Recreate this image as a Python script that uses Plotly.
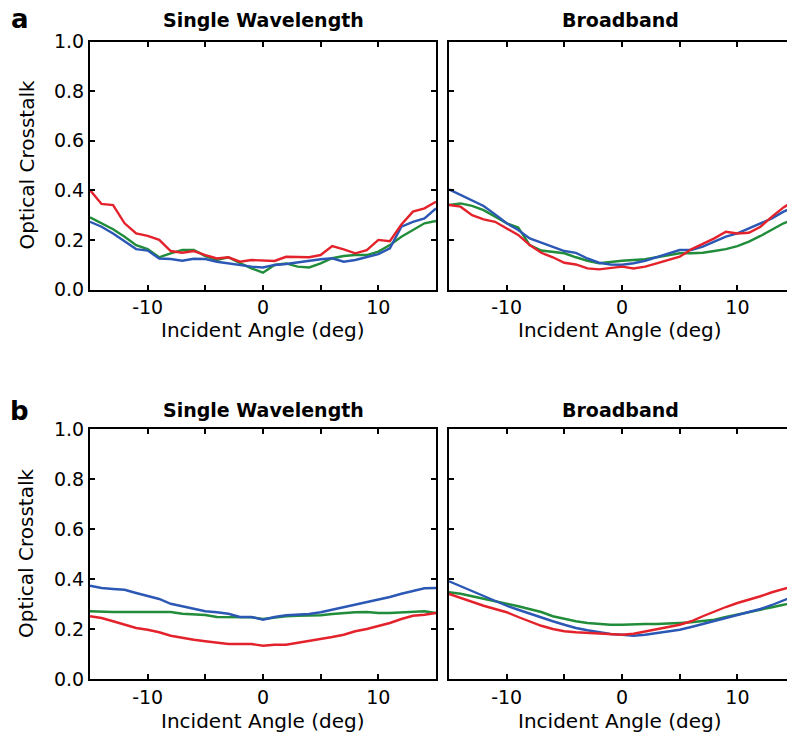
import plotly.graph_objects as go

angles = list(range(-15, 16))

# Panel a, Single Wavelength
a_sw_red = [0.401, 0.345, 0.340, 0.267, 0.226, 0.216, 0.200, 0.155, 0.148, 0.155, 0.139, 0.125, 0.130, 0.112, 0.119, 0.117,
            0.115, 0.132, 0.132, 0.130, 0.139, 0.175, 0.162, 0.146, 0.159, 0.200, 0.195, 0.262, 0.314, 0.327, 0.354]
a_sw_green = [0.291, 0.267, 0.243, 0.213, 0.179, 0.163, 0.130, 0.146, 0.159, 0.159, 0.135, 0.119, 0.130, 0.106, 0.085, 0.068,
              0.099, 0.105, 0.092, 0.089, 0.105, 0.126, 0.135, 0.139, 0.139, 0.153, 0.179, 0.213, 0.240, 0.267, 0.276]
a_sw_blue = [0.273, 0.253, 0.226, 0.193, 0.163, 0.157, 0.125, 0.123, 0.116, 0.124, 0.123, 0.112, 0.105, 0.099, 0.092, 0.089,
             0.099, 0.103, 0.110, 0.116, 0.122, 0.126, 0.112, 0.119, 0.130, 0.143, 0.166, 0.253, 0.273, 0.287, 0.327]

# Panel a, Broadband
a_bb_red = [0.341, 0.334, 0.300, 0.283, 0.273, 0.247, 0.220, 0.179, 0.148, 0.130, 0.108, 0.101, 0.085, 0.081, 0.085, 0.092,
            0.085, 0.092, 0.105, 0.119, 0.132, 0.162, 0.183, 0.206, 0.233, 0.226, 0.229, 0.253, 0.294, 0.331, 0.360]
a_bb_green = [0.341, 0.347, 0.337, 0.320, 0.294, 0.267, 0.250, 0.179, 0.157, 0.152, 0.146, 0.130, 0.116, 0.106, 0.112, 0.116,
              0.119, 0.122, 0.130, 0.139, 0.146, 0.146, 0.148, 0.155, 0.163, 0.175, 0.193, 0.216, 0.240, 0.267, 0.285]
a_bb_blue = [0.404, 0.381, 0.361, 0.337, 0.303, 0.267, 0.240, 0.206, 0.189, 0.173, 0.155, 0.148, 0.125, 0.108, 0.101, 0.100,
             0.106, 0.116, 0.130, 0.143, 0.159, 0.159, 0.173, 0.193, 0.213, 0.226, 0.247, 0.267, 0.287, 0.314, 0.335]

# Panel b, Single Wavelength
b_sw_red = [0.251, 0.244, 0.231, 0.217, 0.204, 0.197, 0.187, 0.173, 0.164, 0.157, 0.151, 0.144, 0.140, 0.140, 0.140, 0.133,
            0.137, 0.137, 0.144, 0.153, 0.161, 0.168, 0.177, 0.191, 0.200, 0.211, 0.224, 0.240, 0.253, 0.257, 0.264]
b_sw_green = [0.271, 0.268, 0.268, 0.268, 0.268, 0.267, 0.267, 0.268, 0.261, 0.260, 0.256, 0.248, 0.248, 0.248, 0.247, 0.240,
              0.247, 0.251, 0.253, 0.253, 0.255, 0.260, 0.264, 0.267, 0.268, 0.264, 0.264, 0.267, 0.267, 0.271, 0.264]
b_sw_blue = [0.373, 0.364, 0.360, 0.357, 0.344, 0.331, 0.320, 0.301, 0.291, 0.280, 0.271, 0.267, 0.261, 0.248, 0.248, 0.237,
             0.248, 0.255, 0.257, 0.260, 0.267, 0.277, 0.288, 0.297, 0.307, 0.315, 0.328, 0.341, 0.351, 0.363, 0.364]

# Panel b, Broadband
b_bb_red = [0.340, 0.324, 0.307, 0.293, 0.280, 0.267, 0.248, 0.231, 0.213, 0.200, 0.191, 0.187, 0.184, 0.180, 0.177, 0.177,
            0.181, 0.191, 0.200, 0.208, 0.217, 0.231, 0.251, 0.271, 0.288, 0.304, 0.317, 0.331, 0.347, 0.360, 0.373]
b_bb_green = [0.347, 0.341, 0.331, 0.320, 0.311, 0.301, 0.291, 0.280, 0.268, 0.251, 0.240, 0.231, 0.224, 0.220, 0.217, 0.217,
              0.220, 0.220, 0.220, 0.221, 0.224, 0.227, 0.231, 0.237, 0.248, 0.257, 0.267, 0.277, 0.287, 0.297, 0.305]
b_bb_blue = [0.391, 0.371, 0.351, 0.331, 0.311, 0.293, 0.277, 0.261, 0.244, 0.231, 0.217, 0.204, 0.195, 0.187, 0.180, 0.177,
             0.173, 0.177, 0.184, 0.191, 0.197, 0.208, 0.220, 0.231, 0.243, 0.253, 0.267, 0.280, 0.296, 0.315, 0.333]

x_tickvals = [-10, -5, 0, 5, 10]
x_ticktext = ["-10", "", "0", "", "10"]
y_tickvals = [0.0, 0.2, 0.4, 0.6, 0.8, 1.0]
y_ticktext = ["0.0", "0.2", "0.4", "0.6", "0.8", "1.0"]

RED = "#e3222b"
GREEN = "#218c3a"
BLUE = "#2b58b5"

W, H = 787, 738
FONT = "DejaVu Sans"

def px_x(p):
    return p / W

def px_y(p):
    return 1 - p / H

fig = go.Figure()

panels = [
    ("x", "y", a_sw_red, a_sw_green, a_sw_blue),
    ("x2", "y2", a_bb_red, a_bb_green, a_bb_blue),
    ("x3", "y3", b_sw_red, b_sw_green, b_sw_blue),
    ("x4", "y4", b_bb_red, b_bb_green, b_bb_blue),
]
for xa, ya, r, g, b in panels:
    for vals, col in ((g, GREEN), (b, BLUE), (r, RED)):
        fig.add_trace(go.Scatter(x=angles, y=vals, mode="lines", xaxis=xa, yaxis=ya,
                                 line=dict(color=col, width=2.4), showlegend=False,
                                 hoverinfo="skip"))

left_dom = [px_x(90), px_x(436)]
right_dom = [px_x(449), 1.0]
top_dom = [px_y(289.5), px_y(41.5)]
bot_dom = [px_y(679), px_y(429)]

tickfont = dict(family=FONT, size=19, color="black")

def xaxis(dom, anchor, rng):
    return dict(domain=dom, anchor=anchor, range=rng, tickvals=x_tickvals, ticktext=x_ticktext,
                ticks="inside", ticklen=5, tickwidth=2, tickcolor="black",
                showline=True, linewidth=2, linecolor="black", mirror="ticks",
                showgrid=False, zeroline=False, tickfont=tickfont, automargin=False,
                ticklabelstandoff=0, fixedrange=True)

def yaxis(dom, anchor, labels, mirror):
    return dict(domain=dom, anchor=anchor, range=[0, 1], tickvals=y_tickvals, ticktext=y_ticktext,
                showticklabels=labels,
                ticks="inside", ticklen=5, tickwidth=2, tickcolor="black",
                showline=True, linewidth=2, linecolor="black", mirror=mirror,
                showgrid=False, zeroline=False, tickfont=tickfont, automargin=False,
                ticklabelstandoff=0, fixedrange=True)

fig.update_layout(
    width=W, height=H,
    margin=dict(l=0, r=0, t=0, b=0),
    paper_bgcolor="white", plot_bgcolor="white",
    font=dict(family=FONT, color="black"),
    xaxis=xaxis(left_dom, "y", [-15, 15]),
    yaxis=yaxis(top_dom, "x", True, "ticks"),
    xaxis2=xaxis(right_dom, "y2", [-15, 14.3]),
    yaxis2=yaxis(top_dom, "x2", False, False),
    xaxis3=xaxis(left_dom, "y3", [-15, 15]),
    yaxis3=yaxis(bot_dom, "x3", True, "ticks"),
    xaxis4=xaxis(right_dom, "y4", [-15, 14.3]),
    yaxis4=yaxis(bot_dom, "x4", False, False),
)

ann = []
def text(t, x, y, size, bold=False, angle=0):
    ann.append(dict(text=f"<b>{t}</b>" if bold else t, x=px_x(x), y=px_y(y), xref="paper", yref="paper",
                    xanchor="center", yanchor="middle", showarrow=False, textangle=angle,
                    font=dict(family=FONT, size=size, color="black")))

text("a", 19.5, 18.5, 26, bold=True)
text("b", 19.5, 411, 26, bold=True)
for yy in (20, 410):
    text("Single Wavelength", 263, yy, 19, bold=True)
    text("Broadband", 620, yy, 19, bold=True)
for yy in (330, 721):
    text("Incident Angle (deg)", 263, yy, 20)
    text("Incident Angle (deg)", 620, yy, 20)
text("Optical Crosstalk", 26, 165.5, 20, angle=-90)
text("Optical Crosstalk", 26, 554, 20, angle=-90)
fig.update_layout(annotations=ann)

fig.write_html("out.html", config={"displayModeBar": False},
               post_script="document.body.style.margin='0';document.body.style.overflow='hidden';")
